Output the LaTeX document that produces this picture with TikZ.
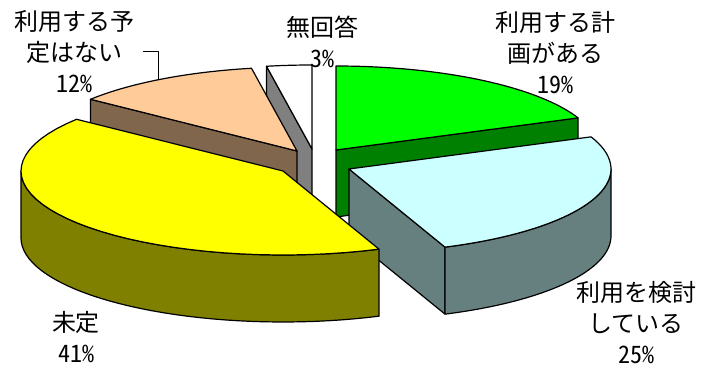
\documentclass[tikz,border=0pt]{standalone}
\usepackage{fontspec}
\newfontfamily\cjk{Noto Sans CJK JP}
\newfontfamily\cjkhw[RawFeature=+hwid]{Noto Sans CJK JP}

\definecolor{plantop}{HTML}{00FF00}
\definecolor{planside}{HTML}{008000}
\definecolor{considertop}{HTML}{CCFFFF}
\definecolor{considerside}{HTML}{668080}
\definecolor{undecidedtop}{HTML}{FFFF00}
\definecolor{undecidedside}{HTML}{808000}
\definecolor{noplantop}{HTML}{FFCC99}
\definecolor{noplanside}{HTML}{80664D}
\definecolor{noanstop}{HTML}{FFFFFF}
\definecolor{noansside}{HTML}{808080}

\def\pierx{262}
\def\piery{84}
\def\piedep{67}

% apex x, apex y, from angle, to angle, top colour, side colour
\newcommand{\drawslice}[6]{%
  \pgfmathsetmacro\rima{max(#3,90)}%
  \pgfmathsetmacro\rimb{min(#4,270)}%
  \ifdim #4pt<180pt \ifdim #4pt>0pt
    \filldraw[fill=#6] (#1,#2) -- ({#1+\pierx*sin(#4)},{#2-\piery*cos(#4)})
      -- ++(0,\piedep) -- ({#1},{#2+\piedep}) -- cycle;
  \fi\fi
  \ifdim #3pt>180pt
    \filldraw[fill=#6] (#1,#2) -- ({#1+\pierx*sin(#3)},{#2-\piery*cos(#3)})
      -- ++(0,\piedep) -- ({#1},{#2+\piedep}) -- cycle;
  \fi
  \ifdim \rima pt<\rimb pt
    \filldraw[fill=#6] plot[domain=\rima:\rimb,samples=40] ({#1+\pierx*sin(\x)},{#2-\piery*cos(\x)})
      -- plot[domain=\rimb:\rima,samples=40] ({#1+\pierx*sin(\x)},{#2+\piedep-\piery*cos(\x)}) -- cycle;
  \fi
  \filldraw[fill=#5] (#1,#2) -- plot[domain=#3:#4,samples=40] ({#1+\pierx*sin(\x)},{#2-\piery*cos(\x)}) -- cycle;
}

\begin{document}
\begin{tikzpicture}[x=1pt,y=-1pt,line width=1.2pt,line join=round,
                    lbl/.style={font=\cjk\fontsize{24}{31}\selectfont,align=center,inner sep=0pt}]
  \useasboundingbox (0,0) rectangle (702,366);
  %slices, back to front%
  \drawslice{312}{149}{350}{360}{noanstop}{noansside}
  \drawslice{297}{151}{308}{350}{noplantop}{noplanside}
  \drawslice{336}{150}{0}{67.5}{plantop}{planside}
  \drawslice{349}{169}{67.5}{158.5}{considertop}{considerside}
  \drawslice{283}{171}{158.5}{308}{undecidedtop}{undecidedside}

  %labels%
  \node[lbl] (plan) at (555,53) {利用する計\\画がある\\\cjkhw 19\%};
  \node[lbl] (consider) at (636,323) {利用を検討\\している\\\cjkhw 25\%};
  \node[lbl] (undecided) at (76,337) {未定\\\cjkhw 41\%};
  \node[lbl] (noplan) at (75,52) {利用する予\\定はない\\\cjkhw 12\%};
  \node[lbl] (noans) at (322,42) {無回答\\\cjkhw 3\%};

  \coordinate (np1) at (143,51);
  \coordinate (np2) at (158,79);
  \draw[line width=0.8pt] (np1) -- (np1 -| np2) -- (np2);
\end{tikzpicture}
\end{document}
